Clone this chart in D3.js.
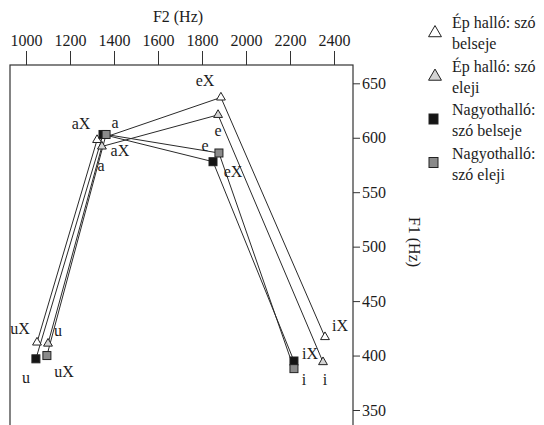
<!DOCTYPE html>
<html>
<head>
<meta charset="utf-8">
<script src="https://cdn.jsdelivr.net/npm/d3@7"></script>
<style>
  body { margin: 0; background: #fff; }
  text { font-family: "Liberation Serif", "DejaVu Serif", serif; fill: #1c1c1c; }
</style>
</head>
<body>
<div id="draw"></div>
<script>
// vowels in drawing order
const vowels = ['u', 'a', 'e', 'i'];

// F2 / F1 (Hz) per series, same order as vowels
const epBelsejeF2 = [1050, 1323, 1886, 2359];
const epBelsejeF1 = [412, 598, 637, 417];
const epElejiF2 = [1100, 1345, 1873, 2350];
const epElejiF1 = [411, 592, 621, 394];
const nagyBelsejeF2 = [1045, 1350, 1850, 2218];
const nagyBelsejeF1 = [397, 603, 578, 395];
const nagyElejiF2 = [1095, 1364, 1877, 2218];
const nagyElejiF1 = [400, 603, 586, 388];

const seriesNames = ['Ép halló: szó belseje', 'Ép halló: szó eleji', 'Nagyothalló: szó belseje', 'Nagyothalló: szó eleji'];
const legendLines = [['Ép halló: szó', 'belseje'], ['Ép halló: szó', 'eleji'], ['Nagyothalló:', 'szó belseje'], ['Nagyothalló:', 'szó eleji']];

const xTicks = [1000, 1200, 1400, 1600, 1800, 2000, 2200, 2400];
const yTicks = [350, 400, 450, 500, 550, 600, 650];

// point labels placed in data units
const labelTexts = ['uX', 'u', 'u', 'uX', 'aX', 'a', 'aX', 'a', 'eX', 'e', 'e', 'eX', 'iX', 'iX', 'i', 'i'];
const labelF2 = [973, 1145, 1000, 1173, 1250, 1405, 1427, 1341, 1814, 1873, 1814, 1941, 2427, 2291, 2264, 2359];
const labelF1 = [425, 423, 380, 385, 613, 614, 588, 575, 653, 607, 593, 569, 428, 402, 378, 378];

let width = 544,
    height = 425,
    frame = { left: 10, right: 353, top: 65, bottom: 440 };

let svg = d3.select('#draw')
    .append('svg')
    .attr('width', width)
    .attr('height', height);

let xScale = d3.scaleLinear().domain([1000, 2400]).range([26, 334]),
    yScale = d3.scaleLinear().domain([350, 650]).range([410, 83.3]);

let series = [
    { name: seriesNames[0], f2: epBelsejeF2, f1: epBelsejeF1, shape: 'tri', fill: '#fff' },
    { name: seriesNames[1], f2: epElejiF2, f1: epElejiF1, shape: 'tri', fill: '#d4d4d4' },
    { name: seriesNames[2], f2: nagyBelsejeF2, f1: nagyBelsejeF1, shape: 'sq', fill: '#151515' },
    { name: seriesNames[3], f2: nagyElejiF2, f1: nagyElejiF1, shape: 'sq', fill: '#8a8a8a' }
].map(s => {
    s.points = vowels.map((v, i) => ({ vowel: v, f2: s.f2[i], f1: s.f1[i] }));
    return s;
});

// frame
svg.append('rect')
    .attr('x', frame.left)
    .attr('y', frame.top)
    .attr('width', frame.right - frame.left)
    .attr('height', frame.bottom - frame.top)
    .attr('fill', 'none')
    .attr('stroke', '#333')
    .attr('stroke-width', 1.2);

// top axis (F2)
let xAxis = svg.append('g')
    .attr('transform', 'translate(0,' + frame.top + ')')
    .call(d3.axisTop(xScale).tickValues(xTicks).tickSize(14).tickPadding(5).tickFormat(d3.format('d')))
    .attr('font-family', '"Liberation Serif", serif')
    .attr('font-size', 16);
xAxis.select('.domain').remove();
xAxis.selectAll('line').attr('stroke', '#333');
xAxis.selectAll('text').attr('fill', '#1c1c1c');

svg.append('text')
    .attr('x', 178)
    .attr('y', 22)
    .attr('text-anchor', 'middle')
    .style('font-size', '16px')
    .text('F2 (Hz)');

// right axis (F1)
let yAxis = svg.append('g')
    .attr('transform', 'translate(' + frame.right + ',0)')
    .call(d3.axisRight(yScale).tickValues(yTicks).tickSize(7).tickPadding(2).tickFormat(d3.format('d')))
    .attr('font-family', '"Liberation Serif", serif')
    .attr('font-size', 16);
yAxis.select('.domain').remove();
yAxis.selectAll('line').attr('stroke', '#333');
yAxis.selectAll('text').attr('fill', '#1c1c1c');

svg.append('text')
    .attr('transform', 'translate(409,242) rotate(90)')
    .attr('text-anchor', 'middle')
    .style('font-size', '16px')
    .text('F1 (Hz)');

// lines u-a-e-i
let line = d3.line().x(d => xScale(d.f2)).y(d => yScale(d.f1));
svg.append('g')
    .selectAll('path')
    .data(series)
    .enter()
    .append('path')
    .attr('d', d => line(d.points))
    .attr('fill', 'none')
    .attr('stroke', '#2a2a2a')
    .attr('stroke-width', 1);

// markers
let tri = d3.symbol().type(d3.symbolTriangle);
series.forEach(s => {
    let g = svg.append('g');
    if (s.shape == 'tri') {
        g.selectAll('path')
            .data(s.points)
            .enter()
            .append('path')
            .attr('d', tri.size(34)())
            .attr('transform', d => 'translate(' + xScale(d.f2) + ',' + yScale(d.f1) + ')')
            .attr('fill', s.fill)
            .attr('stroke', '#222')
            .attr('stroke-width', 1);
    } else {
        g.selectAll('rect')
            .data(s.points)
            .enter()
            .append('rect')
            .attr('x', d => xScale(d.f2) - 4)
            .attr('y', d => yScale(d.f1) - 4)
            .attr('width', 8)
            .attr('height', 8)
            .attr('fill', s.fill)
            .attr('stroke', '#222')
            .attr('stroke-width', 1);
    }
});

// vowel labels
svg.append('g')
    .selectAll('text')
    .data(labelTexts)
    .enter()
    .append('text')
    .attr('x', (d, i) => xScale(labelF2[i]))
    .attr('y', (d, i) => yScale(labelF1[i]))
    .attr('text-anchor', 'middle')
    .attr('dy', '0.35em')
    .style('font-size', '16px')
    .text(d => d);

// legend
let legend = svg.append('g')
    .selectAll('g')
    .data(series)
    .enter()
    .append('g')
    .attr('transform', (d, i) => 'translate(0,' + (28 + i * 43.5) + ')');

legend.each(function (d, i) {
    let g = d3.select(this);
    if (d.shape == 'tri') {
        g.append('path')
            .attr('d', tri.size(72)())
            .attr('transform', 'translate(435,5)')
            .attr('fill', d.fill)
            .attr('stroke', '#222')
            .attr('stroke-width', 1);
    } else {
        g.append('rect')
            .attr('x', 429)
            .attr('y', -1)
            .attr('width', 9)
            .attr('height', 10)
            .attr('fill', d.fill)
            .attr('stroke', '#222')
            .attr('stroke-width', 1);
    }
    g.selectAll('text')
        .data(legendLines[i])
        .enter()
        .append('text')
        .attr('x', 452)
        .attr('y', (t, j) => j * 21)
        .style('font-size', '16px')
        .text(t => t);
});
</script>
</body>
</html>
